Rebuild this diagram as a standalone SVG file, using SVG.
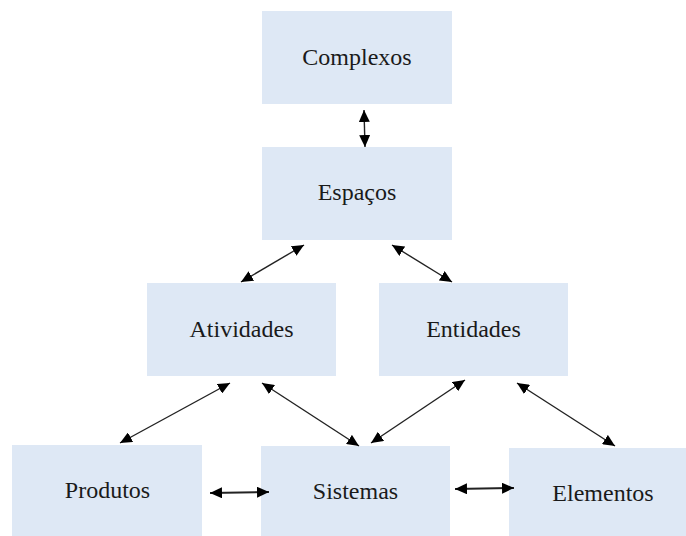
<svg xmlns="http://www.w3.org/2000/svg" width="686" height="536" viewBox="0 0 686 536">
  <style>
    .box { fill: #dee8f5; }
    .label { font-family: "Liberation Serif", "Times New Roman", serif; font-size: 24px; fill: #1a1a1a; text-anchor: middle; }
    .link { stroke: #222; stroke-width: 1.4; fill: none; marker-start: url(#head); marker-end: url(#head); }
    .link.thick { stroke-width: 2; }
  </style>
  <defs>
    <marker id="head" viewBox="0 0 12 11" refX="12" refY="5.5" markerWidth="12" markerHeight="11" markerUnits="userSpaceOnUse" orient="auto-start-reverse">
      <path d="M0,0 L12,5.5 L0,11 z" fill="#000"/>
    </marker>
  </defs>
  <rect width="686" height="536" fill="#fff"/>

  <g id="complexos">
    <rect class="box" x="262" y="11" width="190" height="93"/>
    <text class="label" x="357" y="65">Complexos</text>
  </g>
  <g id="espacos">
    <rect class="box" x="262" y="147" width="190" height="93"/>
    <text class="label" x="357" y="200">Espaços</text>
  </g>
  <g id="atividades">
    <rect class="box" x="147" y="283" width="189" height="93"/>
    <text class="label" x="241.5" y="337">Atividades</text>
  </g>
  <g id="entidades">
    <rect class="box" x="379" y="283" width="189" height="93"/>
    <text class="label" x="473.5" y="337">Entidades</text>
  </g>
  <g id="produtos">
    <rect class="box" x="12" y="445" width="190" height="95"/>
    <text class="label" x="107.5" y="498">Produtos</text>
  </g>
  <g id="sistemas">
    <rect class="box" x="261" y="446" width="189" height="94"/>
    <text class="label" x="355.5" y="499">Sistemas</text>
  </g>
  <g id="elementos">
    <rect class="box" x="509" y="448" width="190" height="92"/>
    <text class="label" x="603" y="501">Elementos</text>
  </g>

  <g id="connectors">
    <line class="link" x1="364" y1="110" x2="365" y2="147"/>
    <line class="link" x1="304" y1="245" x2="241" y2="282"/>
    <line class="link" x1="392" y1="245" x2="452" y2="282"/>
    <line class="link" x1="230" y1="383" x2="120" y2="443"/>
    <line class="link" x1="262" y1="383" x2="359" y2="446"/>
    <line class="link" x1="465" y1="380" x2="371" y2="443"/>
    <line class="link" x1="517" y1="383" x2="615" y2="446"/>
    <line class="link thick" x1="210" y1="493" x2="269" y2="492"/>
    <line class="link thick" x1="455" y1="489" x2="514" y2="488"/>
  </g>
</svg>
